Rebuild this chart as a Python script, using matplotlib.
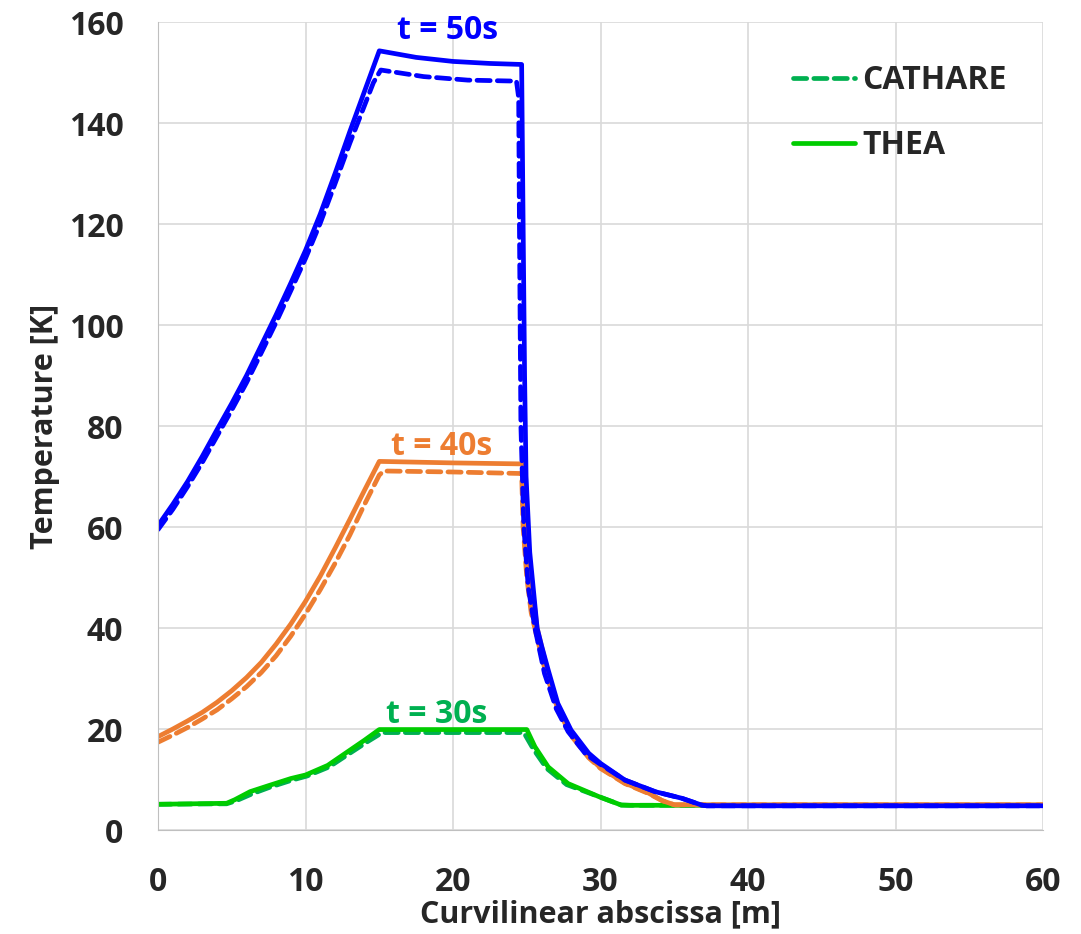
import matplotlib.pyplot as plt

plt.rcParams['font.family'] = ['Open Sans', 'DejaVu Sans']
plt.rcParams['font.weight'] = 'bold'

# t = 50s
x50_thea = [0, 1, 2, 3, 4, 5, 6, 7, 8, 9, 10, 11, 12, 13, 14, 15, 17.5, 20, 22.5, 24.65,
            24.75, 24.85, 24.95, 25.2, 25.7, 26.0, 26.45, 27.1, 28.0, 29.2, 30, 31.65,
            33.7, 35.5, 36.85, 37.2, 60]
y50_thea = [60.3, 64.5, 69, 74, 79.3, 84.5, 90, 96, 102, 108.3, 114.8, 122, 130, 138.3, 146.3, 154.3,
            153.0, 152.2, 151.8, 151.6,
            120, 90, 70, 55, 40, 36.5, 31.7, 25.1, 19.8, 15.2, 13.2, 9.9,
            7.6, 6.3, 4.95, 4.8, 4.8]
x50_cath = [0, 1, 2, 3, 4, 5, 6, 7, 8, 9, 10, 11, 12, 13, 14, 14.6, 15.1, 18, 21, 24.3, 24.45,
            24.5, 24.6, 24.8, 25.1, 25.55, 26.2, 27.0, 27.8, 29.0, 30, 31.65, 33.7, 35.5, 36.85, 37.2, 60]
y50_cath = [59.5, 63.5, 68, 72.8, 78, 83.2, 88.6, 94.5, 100.5, 106.8, 113.2, 120.2, 128, 136, 143.5,
            148, 150.5, 149.2, 148.5, 148.3, 145,
            120, 80, 60, 48, 40, 31, 24, 19.5, 15, 13, 9.9, 7.6, 6.3, 4.95, 4.8, 4.8]

# t = 40s
x40_thea = [0, 1, 2, 3, 4, 5, 6, 7, 8, 9, 10, 11, 12, 13, 14, 15, 20, 24.75,
            24.85, 25.0, 25.2, 25.7, 26.45, 27.1, 28.0, 29.2, 30, 31.65, 33.2, 34.2, 35.0, 60]
y40_thea = [18.5, 20, 21.6, 23.3, 25.3, 27.6, 30.2, 33.2, 36.8, 40.8, 45.3, 50.3, 55.8, 61.5, 67.3, 73,
            72.7, 72.5,
            65, 57, 52, 40, 31, 24.5, 19, 14.5, 12.3, 9.3, 7.4, 5.8, 5.0, 5.0]
x40_cath = [0, 1, 2, 3, 4, 5, 6, 7, 8, 9, 10, 11, 12, 13, 14, 15, 15.3, 20, 24.65,
            24.75, 25.0, 25.3, 25.7, 26.3, 27.1, 28.0, 29.2, 30, 31.65, 33.2, 34.2, 35.0, 60]
y40_cath = [17.4, 18.8, 20.3, 22, 23.8, 26, 28.4, 31.2, 34.5, 38.4, 42.8, 47.6, 52.8, 58.4, 64.5, 70.3,
            71.1, 70.9, 70.6,
            60, 50, 43, 38, 31, 24, 18.7, 14.3, 12.2, 9.2, 7.3, 5.8, 5.0, 5.0]

# t = 30s
x30_thea = [0, 4.65, 5.2, 6.24, 7.5, 9, 10, 11.5, 13, 14, 15, 25, 25.55, 26.45, 27.8,
            29.9, 31.4, 32, 60]
y30_thea = [5.1, 5.3, 6.0, 7.6, 8.8, 10.2, 10.9, 12.8, 15.8, 17.8, 19.9, 19.9, 16.5, 12.5, 9.2,
            6.6, 4.95, 4.9, 4.9]
x30_cath = [0, 4.65, 5.3, 6.4, 7.6, 9.1, 10.1, 11.6, 13.1, 14.2, 15.2, 24.8, 25.45, 26.35, 27.7,
            29.9, 31.4, 32, 60]
y30_cath = [5.1, 5.2, 5.8, 7.2, 8.5, 9.9, 10.7, 12.5, 15.4, 17.5, 19.3, 19.3, 16, 12.2, 9.0,
            6.6, 4.95, 4.9, 4.9]

blue = '#0000FF'
orange = '#ED7D31'
green_thea = '#00CC00'
green_cath = '#00B050'
txt = '#262626'

fig = plt.figure(figsize=(10.81, 9.34), dpi=100)
ax = fig.add_axes([0.1462, 0.1113, 0.8187, 0.8651])

lw = 3.4
dash = (0, (2.8, 1.5))
kw = dict(lw=lw, solid_joinstyle='round', dash_capstyle='round', solid_capstyle='round')
ax.plot(x30_cath, y30_cath, color=green_cath, ls=dash, **kw)
ax.plot(x30_thea, y30_thea, color=green_thea, **kw)
ax.plot(x40_cath, y40_cath, color=orange, ls=dash, **kw)
ax.plot(x40_thea, y40_thea, color=orange, **kw)
ax.plot(x50_cath, y50_cath, color=blue, ls=dash, **kw)
ax.plot(x50_thea, y50_thea, color=blue, **kw)

ax.text(19.6, 158.4, 't = 50s', color=blue, fontsize=23, fontweight='bold', ha='center', va='center')
ax.text(19.2, 76.0, 't = 40s', color=orange, fontsize=23, fontweight='bold', ha='center', va='center')
ax.text(18.9, 22.8, 't = 30s', color=green_cath, fontsize=23, fontweight='bold', ha='center', va='center')

# legend
h1, = ax.plot([], [], color=green_cath, ls=dash, **kw)
h2, = ax.plot([], [], color=green_thea, **kw)
leg = ax.legend([h1, h2], ['CATHARE', 'THEA'], loc='upper left', bbox_to_anchor=(0.7175, 0.948),
                frameon=False, borderpad=0, borderaxespad=0, handlelength=1.95,
                handletextpad=0.22, labelspacing=1.0, prop={'size': 23, 'weight': 'bold'})
for t in leg.get_texts():
    t.set_color(txt)

ax.set_xlim(0, 60)
ax.set_ylim(0, 160)
ax.set_xticks(range(0, 61, 10))
ax.set_yticks(range(0, 161, 20))
ax.grid(True, color='#D9D9D9', lw=1.2)
ax.set_axisbelow(True)
ax.tick_params(length=0, labelsize=23, colors=txt)
ax.tick_params(axis='y', pad=25)
ax.tick_params(axis='x', pad=26)
for lab in ax.get_xticklabels() + ax.get_yticklabels():
    lab.set_fontweight('bold')
for s in ['top', 'right']:
    ax.spines[s].set_visible(False)
for s in ['left', 'bottom']:
    ax.spines[s].set_color('#BFBFBF')

ax.set_xlabel('Curvilinear abscissa [m]', fontsize=22, fontweight='bold', color=txt, labelpad=0)
ax.set_ylabel('Temperature [K]', fontsize=22, fontweight='bold', color=txt, labelpad=6)

fig.savefig('out.png', dpi=100)
